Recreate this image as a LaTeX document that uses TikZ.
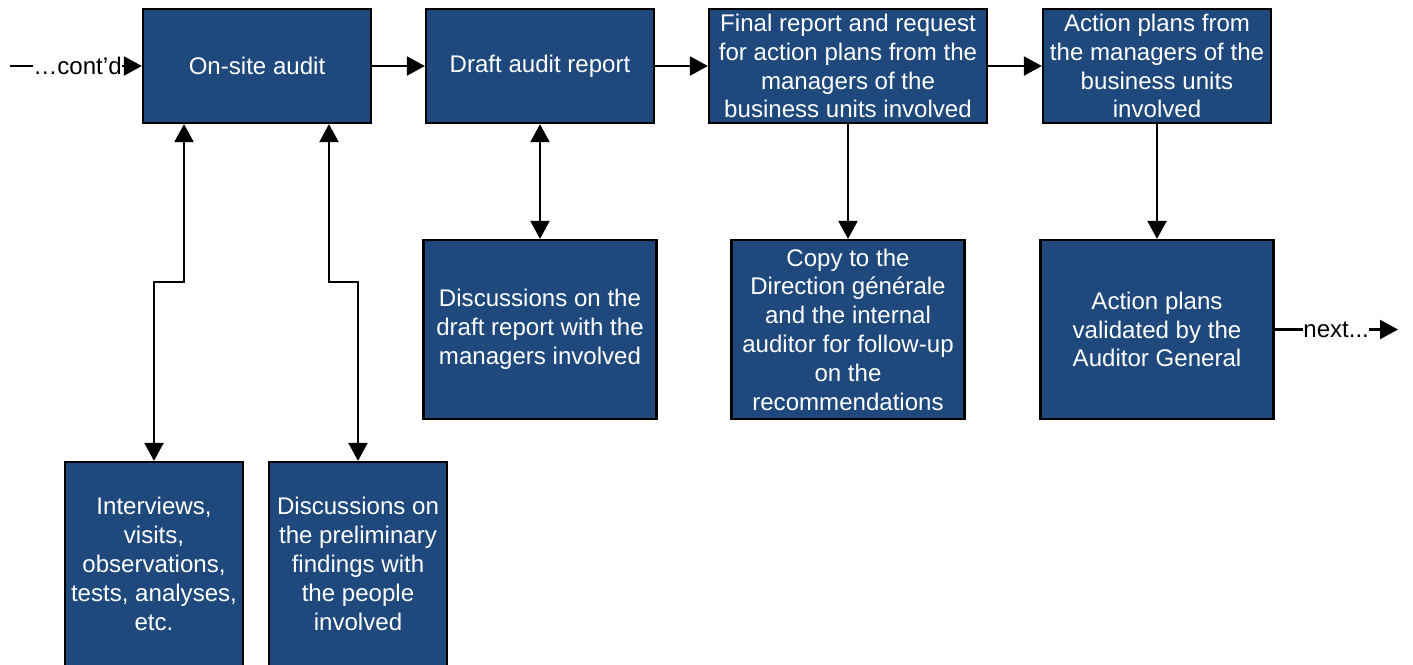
\documentclass[tikz,border=0pt]{standalone}
\usepackage{fontspec}
\setmainfont{Liberation Sans}
\usetikzlibrary{arrows.meta}
\definecolor{auditblue}{HTML}{1F497D}
\newcommand*{\topw }{4.56cm}
\newcommand*{\toph }{2.28cm}
\newcommand*{\finw }{5.56cm}
\newcommand*{\midw }{4.66cm}
\newcommand*{\midh }{3.58cm}
\newcommand*{\loww }{3.56cm}
\newcommand*{\lowh }{4.08cm}
\newcommand*{\bend }{3.16cm}

\begin{document}
\begin{tikzpicture}[x=0.02cm, y=-0.02cm, font=\fontsize{13.7}{16.4}\selectfont,
    box/.style={draw=black, line width=1.3pt, fill=auditblue, text=white, align=center, inner sep=0pt},
    tip/.style={line width=1.3pt},
    link/.style={tip, -{Triangle[length=0.36cm, width=0.38cm]}},
    both/.style={tip, {Triangle[length=0.36cm, width=0.38cm]}-{Triangle[length=0.36cm, width=0.38cm]}},
    lbl/.style={inner sep=0pt, text=black}]
    \useasboundingbox (0,0) rectangle (1413,664);
        % top row
        \node [box, minimum width=\topw, minimum height=\toph] (onsite) at ( 257,66) {On-site audit};
        \node [box, minimum width=\topw, minimum height=\toph] (draft)  at ( 540,66) {Draft audit report};
        \node [box, minimum width=\finw, minimum height=\toph] (final)  at ( 848,66) {Final report and request\\for action plans from the\\managers of the\\business units involved};
        \node [box, minimum width=\topw, minimum height=\toph] (plans)  at (1157,66) {Action plans from\\the managers of the\\business units\\involved};
        % middle row
        \node [box, minimum width=\midw, minimum height=\midh] (drdisc) at ( 540,329.5) {Discussions on the\\draft report with the\\managers involved};
        \node [box, minimum width=\midw, minimum height=\midh] (copy)   at ( 848,329.5) {Copy to the\\Direction générale\\and the internal\\auditor for follow-up\\on the\\recommendations};
        \node [box, minimum width=\midw, minimum height=\midh] (valid)  at (1157,329.5) {Action plans\\validated by the\\Auditor General};
        % bottom row
        \node [box, minimum width=\loww, minimum height=\lowh] (interv) at ( 154,564) {Interviews,\\visits,\\observations,\\tests, analyses,\\etc.};
        \node [box, minimum width=\loww, minimum height=\lowh] (prelim) at ( 358,564) {Discussions on\\the preliminary\\findings with\\the people\\involved};
        % in and out
        \coordinate (cstart) at (10,66);
        \node [lbl, anchor=west] (contd) at (33,66) {…cont’d};
        \node [lbl, anchor=west] (nxt) at (1303,329.5) {next...};
        \coordinate (nend) at (1398,329.5);
        \draw [tip]  (cstart) -- (contd);
        \draw [link] (contd) -- (onsite);
        \draw [tip]  (valid) -- (nxt);
        \draw [link] (nxt) -- (nend);
        % connectors
        \draw [link] (onsite) -- (draft);
        \draw [link] (draft) -- (final);
        \draw [link] (final) -- (plans);
        \draw [both] (draft) -- (drdisc);
        \draw [link] (final) -- (copy);
        \draw [link] (plans) -- (valid);
        \draw [both] ([xshift=-1.46cm]onsite.south) -- ++(0,-\bend) -| (interv.north);
        \draw [both] ([xshift= 1.44cm]onsite.south) -- ++(0,-\bend) -| (prelim.north);
    \end{tikzpicture}
\end{document}
